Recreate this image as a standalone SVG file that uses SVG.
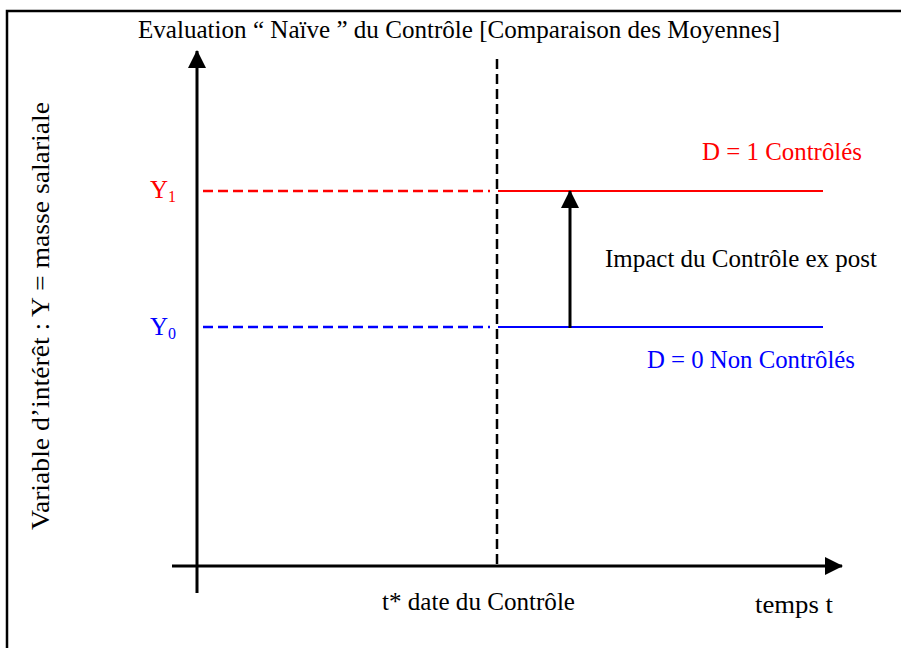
<svg xmlns="http://www.w3.org/2000/svg" width="901" height="648" viewBox="0 0 901 648" font-family="Liberation Serif, Times New Roman, serif" font-size="25">
<style>
.t{font-family:"Liberation Serif","Times New Roman",serif;font-size:25px}
.red{fill:#f00}.blue{fill:#00f}
.axis{stroke:#000;stroke-width:3;fill:none}
.dash{stroke-width:2.5;stroke-dasharray:10 5;fill:none}
</style>
<defs>
<marker id="ah" markerUnits="userSpaceOnUse" markerWidth="18" markerHeight="18" viewBox="0 0 18 18" refX="17" refY="9" orient="auto">
<path d="M0,0 L18,9 L0,18 Z" fill="#000"/>
</marker>
</defs>
<rect width="901" height="648" fill="#fff"/>
<g id="frame">
<path d="M7,648 V11 H901" stroke="#000" stroke-width="2.5" fill="none"/>
</g>
<g id="connectors">
<line class="axis" x1="197" y1="593" x2="197" y2="51" marker-end="url(#ah)"/>
<line class="axis" x1="172" y1="566" x2="842" y2="566" marker-end="url(#ah)"/>
<line class="dash" stroke="#000" x1="497" y1="59" x2="497" y2="566"/>
<line class="dash" stroke="#f00" x1="203" y1="191" x2="490" y2="191"/>
<line stroke="#f00" stroke-width="2" x1="498" y1="191" x2="823" y2="191"/>
<line class="dash" stroke="#00f" x1="203" y1="327" x2="490" y2="327"/>
<line stroke="#00f" stroke-width="2" x1="498" y1="327" x2="823" y2="327"/>
<line class="axis" x1="570" y1="328" x2="570" y2="191" marker-end="url(#ah)"/>
</g>
<g id="title"><text class="t" x="138" y="38" textLength="642" lengthAdjust="spacingAndGlyphs">Evaluation “ Naïve ” du Contrôle [Comparaison des Moyennes]</text></g>
<g id="ylabel"><text class="t" transform="translate(49,530) rotate(-90)" textLength="428" lengthAdjust="spacingAndGlyphs">Variable d’intérêt : Y = masse salariale</text></g>
<g id="y1"><text class="t red" x="150" y="198">Y<tspan font-size="16" dy="4">1</tspan></text></g>
<g id="y0"><text class="t blue" x="150" y="335">Y<tspan font-size="16" dy="4">0</tspan></text></g>
<g id="d1"><text class="t red" x="702" y="160" textLength="160" lengthAdjust="spacingAndGlyphs">D = 1 Contrôlés</text></g>
<g id="impact"><text class="t" x="605" y="267" textLength="272" lengthAdjust="spacingAndGlyphs">Impact du Contrôle ex post</text></g>
<g id="d0"><text class="t blue" x="647" y="368" textLength="208" lengthAdjust="spacingAndGlyphs">D = 0 Non Contrôlés</text></g>
<g id="tstar"><text class="t" x="382" y="610" textLength="193" lengthAdjust="spacingAndGlyphs">t* date du Contrôle</text></g>
<g id="temps"><text class="t" x="755" y="613" textLength="78" lengthAdjust="spacingAndGlyphs">temps  t</text></g>
</svg>
